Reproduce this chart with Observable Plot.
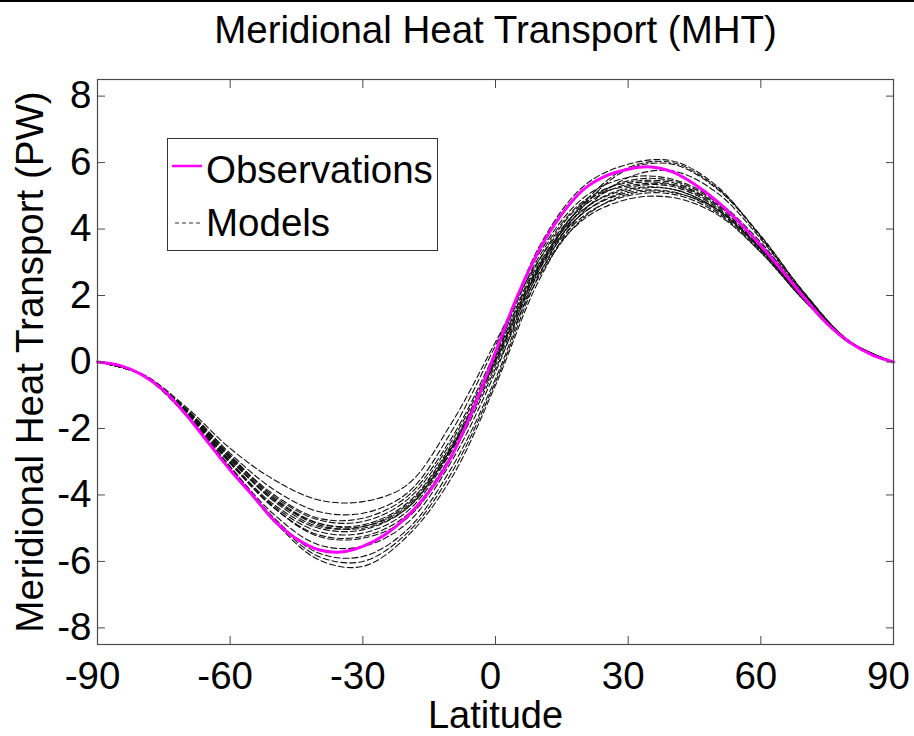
<!DOCTYPE html>
<html>
<head>
<meta charset="utf-8">
<script src="https://cdn.jsdelivr.net/npm/d3@7"></script>
<script src="https://cdn.jsdelivr.net/npm/@observablehq/plot@0.6"></script>
<style>
  html, body { margin: 0; padding: 0; background: #fff; }
  #wrap { position: relative; width: 914px; height: 736px; overflow: hidden; font-family: "Liberation Sans", Arial, sans-serif; }
  #topline { position: absolute; left: 0; top: 0; width: 914px; height: 2px; background: #000; z-index: 2; }
  #legend { position: absolute; left: 167px; top: 138px; }
</style>
</head>
<body>
<div id="wrap"><div id="topline"></div><div id="chart"></div><div id="legend"></div></div>
<script>
// ---- Data ----
const titleText = "Meridional Heat Transport (MHT)";
const xLabel = "Latitude";
const yLabel = "Meridional Heat Transport (PW)";
const legendLabels = ["Observations", "Models"];
const xTicks = [-90, -60, -30, 0, 30, 60, 90];
const yTicks = [-8, -6, -4, -2, 0, 2, 4, 6, 8];

// Observations, every 5 degrees
const latObs = [-90,-85,-80,-75,-70,-65,-60,-55,-50,-45,-40,-35,-30,-25,-20,-15,-10,-5,0,5,10,15,20,25,30,35,40,45,50,55,60,65,70,75,80,85,90];
const obs = [0,-0.1,-0.38,-0.86,-1.58,-2.42,-3.25,-4.0,-4.78,-5.32,-5.65,-5.72,-5.55,-5.2,-4.65,-3.9,-2.85,-1.4,0.3,2.0,3.4,4.45,5.2,5.6,5.8,5.87,5.72,5.35,4.85,4.22,3.5,2.72,1.9,1.15,0.6,0.22,0];

// Models, every 10 degrees
const latModel = [-90,-80,-70,-60,-50,-40,-30,-20,-10,0,10,20,30,40,50,60,70,80,90];
const m01 = [0,-0.35,-1.35,-2.6,-3.55,-4.15,-4.2,-3.7,-1.85,0.6,3.1,4.7,5.35,5.35,4.75,3.55,2.0,0.62,0];
const m02 = [0,-0.36,-1.4,-2.75,-3.85,-4.5,-4.55,-3.95,-2.1,0.5,3.3,4.95,5.55,5.5,4.85,3.6,1.95,0.6,0];
const m03 = [0,-0.37,-1.45,-2.85,-4.0,-4.7,-4.7,-4.05,-2.3,0.3,3.2,4.85,5.4,5.4,4.75,3.5,1.9,0.6,0];
const m04 = [0,-0.37,-1.42,-2.8,-4.05,-4.75,-4.8,-4.15,-2.4,0.2,3.0,4.6,5.2,5.2,4.6,3.4,1.88,0.6,0];
const m05 = [0,-0.37,-1.48,-2.95,-4.15,-4.85,-4.9,-4.25,-2.5,0.1,2.9,4.5,5.1,5.12,4.55,3.35,1.85,0.58,0];
const m06 = [0,-0.37,-1.45,-2.9,-4.2,-4.95,-4.95,-4.3,-2.55,0.0,2.8,4.4,5.0,5.05,4.5,3.3,1.82,0.58,0];
const m07 = [0,-0.38,-1.5,-3.0,-4.3,-5.0,-5.05,-4.4,-2.6,0.05,2.95,4.6,5.25,5.28,4.65,3.42,1.88,0.6,0];
const m08 = [0,-0.38,-1.5,-3.05,-4.35,-5.1,-5.15,-4.5,-2.7,-0.1,2.7,4.3,4.9,4.95,4.45,3.3,1.82,0.58,0];
const m09 = [0,-0.38,-1.52,-3.05,-4.4,-5.2,-5.25,-4.6,-2.8,-0.2,2.6,4.35,5.05,5.1,4.6,3.4,1.88,0.6,0];
const m10 = [0,-0.38,-1.5,-3.0,-4.4,-5.25,-5.3,-4.7,-2.85,0.2,3.5,5.3,5.95,6.05,5.3,3.75,2.05,0.63,0];
const m11 = [0,-0.38,-1.55,-3.15,-4.6,-5.5,-5.55,-4.85,-3.0,-0.3,2.9,4.75,5.45,5.45,4.8,3.5,1.9,0.6,0];
const m12 = [0,-0.38,-1.55,-3.15,-4.7,-5.75,-5.85,-5.05,-3.2,-0.5,2.8,4.8,5.85,6.0,5.25,3.8,2.05,0.63,0];
const m13 = [0,-0.39,-1.58,-3.2,-4.75,-5.85,-6.0,-5.15,-3.35,-0.6,2.65,4.7,5.8,5.95,5.22,3.78,2.05,0.62,0];
const m14 = [0,-0.39,-1.6,-3.2,-4.8,-5.95,-6.15,-5.25,-3.5,-0.7,2.5,4.55,5.55,5.75,5.1,3.7,2.0,0.62,0];
const m15 = [0,-0.37,-1.45,-2.85,-4.1,-4.85,-4.95,-4.35,-2.6,0.0,2.85,4.5,5.15,5.2,4.6,3.38,1.85,0.6,0];
const m16 = [0,-0.37,-1.47,-2.9,-4.15,-4.9,-5.0,-4.4,-2.65,0.15,3.1,4.8,5.3,5.32,4.7,3.45,1.9,0.6,0];

const models = {m01,m02,m03,m04,m05,m06,m07,m08,m09,m10,m11,m12,m13,m14,m15,m16};

// ---- Tidy tables ----
const obsRows = latObs.map((lat, i) => ({lat, v: obs[i]}));
const modelRows = Object.entries(models).flatMap(([id, vals]) =>
  latModel.map((lat, i) => ({id, lat, v: vals[i]})));

const FONT = 38.5;
const AX = "#4a4a4a";
const fmt = d => String(d);
const FAMILY = '"Liberation Sans", Arial, sans-serif';

const chart = Plot.plot({
  width: 914,
  height: 736,
  marginTop: 79,
  marginBottom: 92,
  marginLeft: 97,
  marginRight: 21,
  x: {domain: [-90, 90]},
  y: {domain: [-8.5, 8.5]},
  style: {fontFamily: FAMILY, background: "transparent", color: "#000"},
  marks: [
    Plot.line(modelRows, {x: "lat", y: "v", z: "id", stroke: "#111", strokeWidth: 1.1, strokeDasharray: "6,3", curve: "catmull-rom"}),
    Plot.line(obsRows, {x: "lat", y: "v", stroke: "#ff00ff", strokeWidth: 3, curve: "catmull-rom"}),
    Plot.frame({stroke: AX, strokeWidth: 1.2}),
    // inward ticks on all four sides
    Plot.axisX(xTicks, {anchor: "bottom", tickSize: -8, stroke: AX, fill: "none", label: null}),
    Plot.axisX(xTicks, {anchor: "top", tickSize: -8, stroke: AX, fill: "none", label: null}),
    Plot.axisY(yTicks, {anchor: "left", tickSize: -8, stroke: AX, fill: "none", label: null}),
    Plot.axisY(yTicks, {anchor: "right", tickSize: -8, stroke: AX, fill: "none", label: null}),
    // tick labels
    Plot.axisX(xTicks, {anchor: "bottom", tickSize: 0, tickPadding: 17, dx: -5, fontSize: FONT, tickFormat: fmt, fill: "#000", label: null}),
    Plot.axisY(yTicks, {anchor: "left", tickSize: 0, tickPadding: 6, fontSize: FONT, tickFormat: fmt, fill: "#000", label: null}),
    // title and axis labels
    Plot.text([titleText], {text: d => d, frameAnchor: "top", dy: -37, lineAnchor: "bottom", fontSize: FONT, fill: "#000"}),
    Plot.text([xLabel], {text: d => d, frameAnchor: "bottom", dy: 83, lineAnchor: "bottom", fontSize: 38, fill: "#000"}),
    Plot.text([yLabel], {text: d => d, frameAnchor: "left", textAnchor: "middle", rotate: -90, dx: -55, lineAnchor: "bottom", fontSize: FONT, fill: "#000"})
  ]
});
chart.style.position = "absolute";
chart.style.left = "0px";
chart.style.top = "0px";
document.getElementById("chart").appendChild(chart);

// ---- Legend (box with line samples) ----
const ns = "http://www.w3.org/2000/svg";
const lg = document.createElementNS(ns, "svg");
lg.setAttribute("width", 272);
lg.setAttribute("height", 114);
lg.style.display = "block";
lg.innerHTML = `
  <rect x="0.5" y="0.5" width="270" height="112" fill="#fff" stroke="#333" stroke-width="1"/>
  <line x1="5" x2="35" y1="28" y2="28" stroke="#ff00ff" stroke-width="2.5"/>
  <line x1="8" x2="35" y1="85" y2="85" stroke="#333" stroke-width="1" stroke-dasharray="4,3"/>
  <text x="39" y="45" font-size="${FONT}" font-family='${FAMILY}' fill="#000">${legendLabels[0]}</text>
  <text x="39" y="98" font-size="${FONT}" font-family='${FAMILY}' fill="#000">${legendLabels[1]}</text>`;
document.getElementById("legend").appendChild(lg);
</script>
</body>
</html>
